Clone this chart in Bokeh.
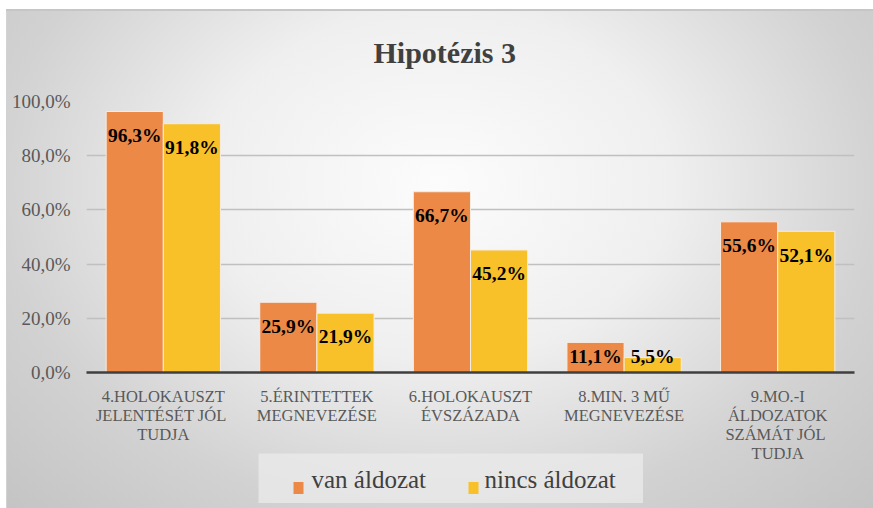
from bokeh.plotting import figure
from bokeh.models import ColumnDataSource, FactorRange, FixedTicker
from bokeh.transform import dodge
from bokeh.core.properties import value
from bokeh.embed import file_html
from bokeh.resources import INLINE

# Survey questions (category axis), one row per question
categories = [
    "4.HOLOKAUSZT\nJELENTÉSÉT  JÓL\nTUDJA",
    "5.ÉRINTETTEK\nMEGNEVEZÉSE",
    "6.HOLOKAUSZT\nÉVSZÁZADA",
    "8.MIN. 3 MŰ\nMEGNEVEZÉSE",
    "9.MO.-I\nÁLDOZATOK\nSZÁMÁT  JÓL\nTUDJA",
]
series_names = ["van áldozat", "nincs áldozat"]
van_aldozat = [96.3, 25.9, 66.7, 11.1, 55.6]
nincs_aldozat = [91.8, 21.9, 45.2, 5.5, 52.1]
y_ticks = [0, 20, 40, 60, 80, 100]
y_tick_labels = ["0,0%", "20,0%", "40,0%", "60,0%", "80,0%", "100,0%"]

ORANGE = "#EC8946"
YELLOW = "#F8C029"
SERIF = "Liberation Serif"


def pct_label(v):
    return f"{v:.1f}%".replace(".", ",")


def label_y(v):
    # value labels sit just inside the top of the bar, but never below the axis
    return max(v - 8.8, 6.0)


src = ColumnDataSource(dict(
    cat=categories,
    van=van_aldozat,
    nincs=nincs_aldozat,
    van_lbl=[pct_label(v) for v in van_aldozat],
    nincs_lbl=[pct_label(v) for v in nincs_aldozat],
    van_y=[label_y(v) for v in van_aldozat],
    nincs_y=[label_y(v) for v in nincs_aldozat],
))

p = figure(
    width=867, height=499,
    x_range=FactorRange(*categories),
    y_range=(0, 100),
    output_backend="svg",
    toolbar_location=None,
    min_border_left=80, min_border_right=19,
    min_border_top=92, min_border_bottom=136,
    # second (blank) line keeps the heading clear of the plot area
    title="Hipotézis 3\n\u00a0",
)

# radial grey gradient behind the chart
p.background_fill_alpha = 0
p.border_fill_alpha = 0
p.outline_line_color = None
p.styles = {
    "margin-left": "6px",
    "margin-top": "9px",
    "background": "radial-gradient(ellipse farthest-corner at 50% 35%, "
                  "#fcfcfc 0%, #efefef 38%, #e3e3e3 52%, #d2d2d2 72%, #c4c4c4 100%)",
    "box-shadow": "inset 0 2px 0 #c6c6c6, inset 1px 0 0 #d2d2d2",
}

# heading centred on the whole chart rather than on the plot area
p.title.align = "left"
p.title.offset = 287
p.title.text_font = SERIF
p.title.text_font_size = "30px"
p.title.text_font_style = "bold"
p.title.text_color = "#404040"
p.title.standoff = 0

w = 0.372
off = w / 2
p.vbar(x=dodge("cat", -off, range=p.x_range), top="van", width=w, source=src,
       fill_color=ORANGE, line_color="#f7ece2", line_width=1)
p.vbar(x=dodge("cat", off, range=p.x_range), top="nincs", width=w, source=src,
       fill_color=YELLOW, line_color="#f7ece2", line_width=1)

for col_x, ycol, tcol in ((-off, "van_y", "van_lbl"), (off, "nincs_y", "nincs_lbl")):
    p.text(x=dodge("cat", col_x, range=p.x_range), y=ycol, text=tcol, source=src,
           text_font=value(SERIF), text_font_style="bold", text_font_size="19.5px",
           text_align="center", text_baseline="middle", text_color="black")

# axes
p.yaxis.ticker = FixedTicker(ticks=y_ticks)
p.yaxis.major_label_overrides = {t: l for t, l in zip(y_ticks, y_tick_labels)}
p.yaxis.axis_line_color = None
p.yaxis.major_tick_line_color = None
p.yaxis.minor_tick_line_color = None
p.yaxis.major_label_text_font = SERIF
p.yaxis.major_label_text_font_size = "19px"
p.yaxis.major_label_text_color = "#595959"
p.yaxis.major_label_standoff = 10

p.xaxis.axis_line_color = "#3f3f3f"
p.xaxis.axis_line_width = 2.5
p.xaxis.major_tick_line_color = None
p.xaxis.minor_tick_line_color = None
p.xaxis.major_label_text_font = SERIF
p.xaxis.major_label_text_font_size = "16.5px"
p.xaxis.major_label_text_line_height = 1.0
p.xaxis.major_label_text_color = "#595959"
p.xaxis.major_label_standoff = 8

p.xgrid.grid_line_color = None
p.ygrid.grid_line_color = "#c0c0c0"
p.ygrid.grid_line_width = 1.5

# legend box laid over the lower part of the chart; its ranges are in pixels
leg = figure(
    width=385, height=50, x_range=(0, 385), y_range=(0, 50),
    output_backend="svg", toolbar_location=None, min_border=0,
)
leg.axis.visible = False
leg.grid.visible = False
leg.outline_line_color = None
leg.background_fill_color = "#ebebeb"
leg.background_fill_alpha = 0.75
leg.border_fill_alpha = 0
leg.styles = {"position": "absolute", "left": "258px", "top": "453px"}

leg_src = ColumnDataSource(dict(
    name=series_names,
    color=[ORANGE, YELLOW],
    swatch_x=[40, 215],
    text_x=[53, 226],
))
leg.rect(x="swatch_x", y=15.5, width=10, height=12, source=leg_src,
         fill_color="color", line_color=None)
leg.text(x="text_x", y=24, text="name", source=leg_src,
         text_font=value(SERIF), text_font_size="25px", text_color="#404040",
         text_align="left", text_baseline="middle")

open("out.html", "w").write(file_html([p, leg], INLINE))
